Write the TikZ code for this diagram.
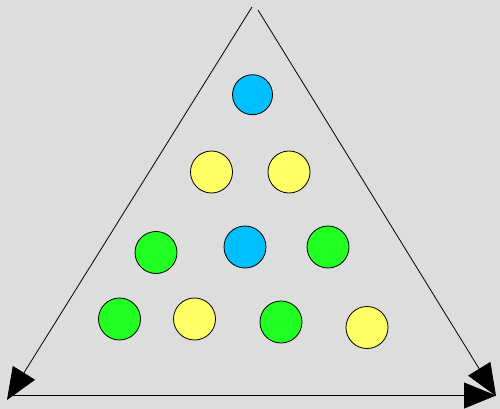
\documentclass[tikz,border=0pt]{standalone}
\usetikzlibrary{arrows.meta}
\definecolor{bg}{HTML}{DDDDDD}
\definecolor{cblue}{HTML}{00BFFF}
\definecolor{cyellow}{HTML}{FFFF66}
\definecolor{cgreen}{HTML}{22FF22}
\tikzset{
  ball/.style={circle, draw=black, line width=0.8pt, minimum size=42pt, inner sep=0pt},
  bball/.style={ball, fill=cblue},
  yball/.style={ball, fill=cyellow},
  gball/.style={ball, fill=cgreen},
  edge/.style={draw=black, line width=0.8pt, -{Triangle[length=32pt, width=26pt]}},
}
\begin{document}
\begin{tikzpicture}[x=1pt, y=-1pt]
\fill[bg] (0,0) rectangle (500,409);
\useasboundingbox (0,0) rectangle (500,409);
\coordinate (apexL) at (252,7);
\coordinate (apexR) at (258,10);
\coordinate (left) at (7,400);
\coordinate (bstart) at (8,395.5);
\coordinate (right) at (496,395.5);
\coordinate (rtip) at (496,396);
\draw[edge] (apexL) -- (left);
\draw[edge] (apexR) -- (rtip);
\draw[edge] (bstart) -- (right);
\node[bball, minimum size=40pt] (b1) at (252.5,94.7) {};
\node[yball] (y1) at (211.5,172) {};
\node[yball] (y2) at (289,172) {};
\node[gball] (g1) at (156,252.5) {};
\node[bball] (b2) at (245,247) {};
\node[gball] (g2) at (328,247) {};
\node[gball] (g3) at (119.5,319) {};
\node[yball] (y3) at (194.5,319) {};
\node[gball] (g4) at (281,322) {};
\node[yball] (y4) at (367,327.5) {};
\end{tikzpicture}
\end{document}
